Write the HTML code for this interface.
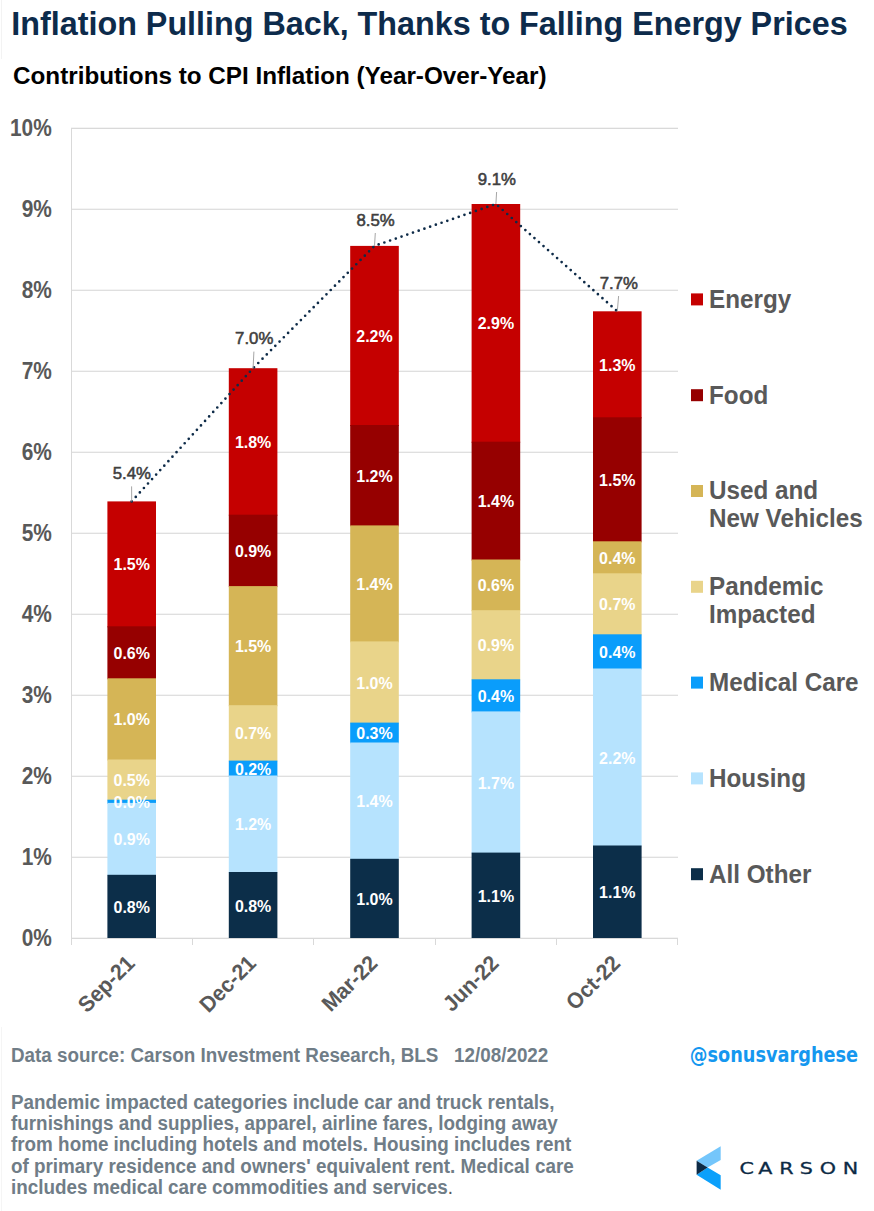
<!DOCTYPE html><html><head><meta charset="utf-8"><title>Inflation Pulling Back, Thanks to Falling Energy Prices</title>
<style>html,body{margin:0;padding:0;background:#fff;}svg{display:block;font-family:"Liberation Sans", Arial, Helvetica, sans-serif;}</style></head><body>
<svg width="874" height="1211" viewBox="0 0 874 1211">
<rect x="0" y="0" width="874" height="1211" fill="#fff"/>
<rect x="1" y="0" width="1" height="59" fill="#f3f3f3"/>
<rect x="1" y="1027" width="1" height="184" fill="#f5f5f5"/>
<text x="11.3" y="35" font-size="32.3" font-weight="bold" fill="#0D2B4B">Inflation Pulling Back, Thanks to Falling Energy Prices</text>
<text x="13" y="84" font-size="24.25" font-weight="bold" fill="#000">Contributions to CPI Inflation (Year-Over-Year)</text>
<rect x="71" y="127" width="607" height="1" fill="#F4F4F4"/>
<rect x="71" y="128" width="607" height="1" fill="#D9D9D9"/>
<text transform="translate(51.8,136.1) scale(0.9,1)" font-size="23.2" font-weight="bold" fill="#595959" text-anchor="end">10%</text>
<rect x="71" y="208" width="607" height="1" fill="#F4F4F4"/>
<rect x="71" y="209" width="607" height="1" fill="#DFDFDF"/>
<text transform="translate(51.8,217.1) scale(0.9,1)" font-size="23.2" font-weight="bold" fill="#595959" text-anchor="end">9%</text>
<rect x="71" y="289" width="607" height="1" fill="#F4F4F4"/>
<rect x="71" y="290" width="607" height="1" fill="#DFDFDF"/>
<text transform="translate(51.8,298.1) scale(0.9,1)" font-size="23.2" font-weight="bold" fill="#595959" text-anchor="end">8%</text>
<rect x="71" y="370" width="607" height="1" fill="#F4F4F4"/>
<rect x="71" y="371" width="607" height="1" fill="#DFDFDF"/>
<text transform="translate(51.8,379.1) scale(0.9,1)" font-size="23.2" font-weight="bold" fill="#595959" text-anchor="end">7%</text>
<rect x="71" y="451" width="607" height="1" fill="#F4F4F4"/>
<rect x="71" y="452" width="607" height="1" fill="#DFDFDF"/>
<text transform="translate(51.8,460.1) scale(0.9,1)" font-size="23.2" font-weight="bold" fill="#595959" text-anchor="end">6%</text>
<rect x="71" y="532" width="607" height="1" fill="#F4F4F4"/>
<rect x="71" y="533" width="607" height="1" fill="#DFDFDF"/>
<text transform="translate(51.8,541.1) scale(0.9,1)" font-size="23.2" font-weight="bold" fill="#595959" text-anchor="end">5%</text>
<rect x="71" y="613" width="607" height="1" fill="#F4F4F4"/>
<rect x="71" y="614" width="607" height="1" fill="#DFDFDF"/>
<text transform="translate(51.8,622.1) scale(0.9,1)" font-size="23.2" font-weight="bold" fill="#595959" text-anchor="end">4%</text>
<rect x="71" y="694" width="607" height="1" fill="#F4F4F4"/>
<rect x="71" y="695" width="607" height="1" fill="#DFDFDF"/>
<text transform="translate(51.8,703.1) scale(0.9,1)" font-size="23.2" font-weight="bold" fill="#595959" text-anchor="end">3%</text>
<rect x="71" y="775" width="607" height="1" fill="#F4F4F4"/>
<rect x="71" y="776" width="607" height="1" fill="#DFDFDF"/>
<text transform="translate(51.8,784.1) scale(0.9,1)" font-size="23.2" font-weight="bold" fill="#595959" text-anchor="end">2%</text>
<rect x="71" y="856" width="607" height="1" fill="#F4F4F4"/>
<rect x="71" y="857" width="607" height="1" fill="#DFDFDF"/>
<text transform="translate(51.8,865.1) scale(0.9,1)" font-size="23.2" font-weight="bold" fill="#595959" text-anchor="end">1%</text>
<rect x="71" y="937" width="607" height="1" fill="#F4F4F4"/>
<rect x="71" y="938" width="607" height="1" fill="#D9D9D9"/>
<text transform="translate(51.8,946.1) scale(0.9,1)" font-size="23.2" font-weight="bold" fill="#595959" text-anchor="end">0%</text>
<rect x="71" y="128" width="1" height="817" fill="#D9D9D9"/>
<rect x="71" y="938" width="1" height="7" fill="#D9D9D9"/>
<rect x="192" y="938" width="1" height="7" fill="#D9D9D9"/>
<rect x="313" y="938" width="1" height="7" fill="#D9D9D9"/>
<rect x="435" y="938" width="1" height="7" fill="#D9D9D9"/>
<rect x="556" y="938" width="1" height="7" fill="#D9D9D9"/>
<rect x="677" y="938" width="1" height="7" fill="#D9D9D9"/>
<rect x="107.4" y="501.4" width="48.6" height="125.9" fill="#C50000"/>
<rect x="107.4" y="626.3" width="48.6" height="53.0" fill="#960000"/>
<rect x="107.4" y="678.3" width="48.6" height="82.2" fill="#D5B556"/>
<rect x="107.4" y="759.5" width="48.6" height="41.2" fill="#E9D48A"/>
<rect x="107.4" y="799.7" width="48.6" height="4.2" fill="#0A9DFB"/>
<rect x="107.4" y="802.9" width="48.6" height="72.9" fill="#B6E3FE"/>
<rect x="107.4" y="874.8" width="48.6" height="63.2" fill="#0C2E49"/>
<rect x="228.8" y="368.2" width="48.6" height="147.5" fill="#C50000"/>
<rect x="228.8" y="514.7" width="48.6" height="72.4" fill="#960000"/>
<rect x="228.8" y="586.1" width="48.6" height="120.1" fill="#D5B556"/>
<rect x="228.8" y="705.2" width="48.6" height="56.4" fill="#E9D48A"/>
<rect x="228.8" y="760.6" width="48.6" height="15.9" fill="#0A9DFB"/>
<rect x="228.8" y="775.5" width="48.6" height="97.5" fill="#B6E3FE"/>
<rect x="228.8" y="872.0" width="48.6" height="66.0" fill="#0C2E49"/>
<rect x="350.2" y="245.9" width="48.6" height="180.1" fill="#C50000"/>
<rect x="350.2" y="425.0" width="48.6" height="101.4" fill="#960000"/>
<rect x="350.2" y="525.4" width="48.6" height="117.0" fill="#D5B556"/>
<rect x="350.2" y="641.4" width="48.6" height="82.2" fill="#E9D48A"/>
<rect x="350.2" y="722.6" width="48.6" height="20.9" fill="#0A9DFB"/>
<rect x="350.2" y="742.5" width="48.6" height="117.3" fill="#B6E3FE"/>
<rect x="350.2" y="858.8" width="48.6" height="79.2" fill="#0C2E49"/>
<rect x="471.6" y="204.0" width="48.6" height="238.7" fill="#C50000"/>
<rect x="471.6" y="441.7" width="48.6" height="118.8" fill="#960000"/>
<rect x="471.6" y="559.5" width="48.6" height="51.7" fill="#D5B556"/>
<rect x="471.6" y="610.2" width="48.6" height="70.1" fill="#E9D48A"/>
<rect x="471.6" y="679.3" width="48.6" height="33.1" fill="#0A9DFB"/>
<rect x="471.6" y="711.4" width="48.6" height="142.2" fill="#B6E3FE"/>
<rect x="471.6" y="852.6" width="48.6" height="85.4" fill="#0C2E49"/>
<rect x="593.0" y="311.3" width="48.6" height="107.0" fill="#C50000"/>
<rect x="593.0" y="417.3" width="48.6" height="125.0" fill="#960000"/>
<rect x="593.0" y="541.3" width="48.6" height="33.0" fill="#D5B556"/>
<rect x="593.0" y="573.3" width="48.6" height="62.0" fill="#E9D48A"/>
<rect x="593.0" y="634.3" width="48.6" height="35.2" fill="#0A9DFB"/>
<rect x="593.0" y="668.5" width="48.6" height="178.0" fill="#B6E3FE"/>
<rect x="593.0" y="845.5" width="48.6" height="92.5" fill="#0C2E49"/>
<text transform="translate(131.7,912.9) scale(0.93,1)" font-size="17.2" font-weight="bold" fill="#fff" text-anchor="middle">0.8%</text>
<text transform="translate(131.7,845.3) scale(0.93,1)" font-size="17.2" font-weight="bold" fill="#fff" text-anchor="middle">0.9%</text>
<text transform="translate(131.7,807.8) scale(0.93,1)" font-size="17.2" font-weight="bold" fill="#fff" text-anchor="middle">0.0%</text>
<text transform="translate(131.7,786.1) scale(0.93,1)" font-size="17.2" font-weight="bold" fill="#fff" text-anchor="middle">0.5%</text>
<text transform="translate(131.7,725.4) scale(0.93,1)" font-size="17.2" font-weight="bold" fill="#fff" text-anchor="middle">1.0%</text>
<text transform="translate(131.7,658.8) scale(0.93,1)" font-size="17.2" font-weight="bold" fill="#fff" text-anchor="middle">0.6%</text>
<text transform="translate(131.7,570.3) scale(0.93,1)" font-size="17.2" font-weight="bold" fill="#fff" text-anchor="middle">1.5%</text>
<text transform="translate(253.1,911.5) scale(0.93,1)" font-size="17.2" font-weight="bold" fill="#fff" text-anchor="middle">0.8%</text>
<text transform="translate(253.1,830.2) scale(0.93,1)" font-size="17.2" font-weight="bold" fill="#fff" text-anchor="middle">1.2%</text>
<text transform="translate(253.1,774.5) scale(0.93,1)" font-size="17.2" font-weight="bold" fill="#fff" text-anchor="middle">0.2%</text>
<text transform="translate(253.1,739.4) scale(0.93,1)" font-size="17.2" font-weight="bold" fill="#fff" text-anchor="middle">0.7%</text>
<text transform="translate(253.1,652.1) scale(0.93,1)" font-size="17.2" font-weight="bold" fill="#fff" text-anchor="middle">1.5%</text>
<text transform="translate(253.1,556.9) scale(0.93,1)" font-size="17.2" font-weight="bold" fill="#fff" text-anchor="middle">0.9%</text>
<text transform="translate(253.1,447.9) scale(0.93,1)" font-size="17.2" font-weight="bold" fill="#fff" text-anchor="middle">1.8%</text>
<text transform="translate(374.5,904.9) scale(0.93,1)" font-size="17.2" font-weight="bold" fill="#fff" text-anchor="middle">1.0%</text>
<text transform="translate(374.5,807.1) scale(0.93,1)" font-size="17.2" font-weight="bold" fill="#fff" text-anchor="middle">1.4%</text>
<text transform="translate(374.5,739.0) scale(0.93,1)" font-size="17.2" font-weight="bold" fill="#fff" text-anchor="middle">0.3%</text>
<text transform="translate(374.5,688.5) scale(0.93,1)" font-size="17.2" font-weight="bold" fill="#fff" text-anchor="middle">1.0%</text>
<text transform="translate(374.5,589.9) scale(0.93,1)" font-size="17.2" font-weight="bold" fill="#fff" text-anchor="middle">1.4%</text>
<text transform="translate(374.5,481.7) scale(0.93,1)" font-size="17.2" font-weight="bold" fill="#fff" text-anchor="middle">1.2%</text>
<text transform="translate(374.5,341.9) scale(0.93,1)" font-size="17.2" font-weight="bold" fill="#fff" text-anchor="middle">2.2%</text>
<text transform="translate(495.9,901.8) scale(0.93,1)" font-size="17.2" font-weight="bold" fill="#fff" text-anchor="middle">1.1%</text>
<text transform="translate(495.9,788.5) scale(0.93,1)" font-size="17.2" font-weight="bold" fill="#fff" text-anchor="middle">1.7%</text>
<text transform="translate(495.9,701.8) scale(0.93,1)" font-size="17.2" font-weight="bold" fill="#fff" text-anchor="middle">0.4%</text>
<text transform="translate(495.9,651.2) scale(0.93,1)" font-size="17.2" font-weight="bold" fill="#fff" text-anchor="middle">0.9%</text>
<text transform="translate(495.9,591.3) scale(0.93,1)" font-size="17.2" font-weight="bold" fill="#fff" text-anchor="middle">0.6%</text>
<text transform="translate(495.9,507.1) scale(0.93,1)" font-size="17.2" font-weight="bold" fill="#fff" text-anchor="middle">1.4%</text>
<text transform="translate(495.9,329.3) scale(0.93,1)" font-size="17.2" font-weight="bold" fill="#fff" text-anchor="middle">2.9%</text>
<text transform="translate(617.3,898.2) scale(0.93,1)" font-size="17.2" font-weight="bold" fill="#fff" text-anchor="middle">1.1%</text>
<text transform="translate(617.3,763.5) scale(0.93,1)" font-size="17.2" font-weight="bold" fill="#fff" text-anchor="middle">2.2%</text>
<text transform="translate(617.3,657.9) scale(0.93,1)" font-size="17.2" font-weight="bold" fill="#fff" text-anchor="middle">0.4%</text>
<text transform="translate(617.3,610.3) scale(0.93,1)" font-size="17.2" font-weight="bold" fill="#fff" text-anchor="middle">0.7%</text>
<text transform="translate(617.3,563.8) scale(0.93,1)" font-size="17.2" font-weight="bold" fill="#fff" text-anchor="middle">0.4%</text>
<text transform="translate(617.3,485.8) scale(0.93,1)" font-size="17.2" font-weight="bold" fill="#fff" text-anchor="middle">1.5%</text>
<text transform="translate(617.3,370.8) scale(0.93,1)" font-size="17.2" font-weight="bold" fill="#fff" text-anchor="middle">1.3%</text>
<polyline points="131.7,501.4 253.1,368.2 374.5,245.9 495.9,204.0 617.3,311.3" fill="none" stroke="#0E2B48" stroke-width="2.7" stroke-dasharray="0 6.05" stroke-linecap="round" stroke-linejoin="round"/>
<line x1="131.6" y1="486.4" x2="131.7" y2="501.4" stroke="#A6A6A6" stroke-width="1"/>
<text x="131.9" y="479.2" font-size="16.8" fill="#404040" stroke="#404040" stroke-width="0.55" text-anchor="middle">5.4%</text>
<line x1="253.9" y1="351.6" x2="253.1" y2="368.2" stroke="#A6A6A6" stroke-width="1"/>
<text x="254.2" y="344.4" font-size="16.8" fill="#404040" stroke="#404040" stroke-width="0.55" text-anchor="middle">7.0%</text>
<line x1="375.3" y1="233.0" x2="374.5" y2="245.9" stroke="#A6A6A6" stroke-width="1"/>
<text x="375.6" y="225.9" font-size="16.8" fill="#404040" stroke="#404040" stroke-width="0.55" text-anchor="middle">8.5%</text>
<line x1="496.6" y1="192.0" x2="495.9" y2="204.0" stroke="#A6A6A6" stroke-width="1"/>
<text x="496.9" y="184.7" font-size="16.8" fill="#404040" stroke="#404040" stroke-width="0.55" text-anchor="middle">9.1%</text>
<line x1="618.6" y1="296.0" x2="617.3" y2="311.3" stroke="#A6A6A6" stroke-width="1"/>
<text x="618.9" y="289.0" font-size="16.8" fill="#404040" stroke="#404040" stroke-width="0.55" text-anchor="middle">7.7%</text>
<text transform="translate(124.4,953.2) rotate(-45) scale(0.96,1)" font-size="22" font-weight="bold" fill="#595959" text-anchor="end" dominant-baseline="hanging">Sep-21</text>
<text transform="translate(245.8,953.2) rotate(-45) scale(0.96,1)" font-size="22" font-weight="bold" fill="#595959" text-anchor="end" dominant-baseline="hanging">Dec-21</text>
<text transform="translate(367.2,953.2) rotate(-45) scale(0.96,1)" font-size="22" font-weight="bold" fill="#595959" text-anchor="end" dominant-baseline="hanging">Mar-22</text>
<text transform="translate(488.6,953.2) rotate(-45) scale(0.96,1)" font-size="22" font-weight="bold" fill="#595959" text-anchor="end" dominant-baseline="hanging">Jun-22</text>
<text transform="translate(610.0,953.2) rotate(-45) scale(0.96,1)" font-size="22" font-weight="bold" fill="#595959" text-anchor="end" dominant-baseline="hanging">Oct-22</text>
<rect x="691" y="293.4" width="12" height="12" fill="#C50000"/>
<text transform="translate(709,307.7) scale(0.955,1)" font-size="25.4" font-weight="bold" fill="#595959">Energy</text>
<rect x="691" y="389.2" width="12" height="12" fill="#960000"/>
<text transform="translate(709,403.5) scale(0.955,1)" font-size="25.4" font-weight="bold" fill="#595959">Food</text>
<rect x="691" y="485.0" width="12" height="12" fill="#D5B556"/>
<text transform="translate(709,499.3) scale(0.955,1)" font-size="25.4" font-weight="bold" fill="#595959">Used and</text>
<text transform="translate(709,527.1) scale(0.955,1)" font-size="25.4" font-weight="bold" fill="#595959">New Vehicles</text>
<rect x="691" y="580.8" width="12" height="12" fill="#E9D48A"/>
<text transform="translate(709,595.1) scale(0.955,1)" font-size="25.4" font-weight="bold" fill="#595959">Pandemic</text>
<text transform="translate(709,622.9) scale(0.955,1)" font-size="25.4" font-weight="bold" fill="#595959">Impacted</text>
<rect x="691" y="676.6" width="12" height="12" fill="#0A9DFB"/>
<text transform="translate(709,690.9) scale(0.955,1)" font-size="25.4" font-weight="bold" fill="#595959">Medical Care</text>
<rect x="691" y="772.4" width="12" height="12" fill="#B6E3FE"/>
<text transform="translate(709,786.7) scale(0.955,1)" font-size="25.4" font-weight="bold" fill="#595959">Housing</text>
<rect x="691" y="868.2" width="12" height="12" fill="#0C2E49"/>
<text transform="translate(709,882.5) scale(0.955,1)" font-size="25.4" font-weight="bold" fill="#595959">All Other</text>
<text transform="translate(11,1061.5) scale(0.925,1)" font-size="20.4" font-weight="bold" fill="#707D87">Data source: Carson Investment Research, BLS</text>
<text transform="translate(454,1061.5) scale(0.925,1)" font-size="20.4" font-weight="bold" fill="#707D87">12/08/2022</text>
<text transform="translate(11,1108.5) scale(0.925,1)" font-size="20.4" font-weight="bold" fill="#707D87">Pandemic impacted categories include car and truck rentals,</text>
<text transform="translate(11,1129.8) scale(0.925,1)" font-size="20.4" font-weight="bold" fill="#707D87">furnishings and supplies, apparel, airline fares, lodging away</text>
<text transform="translate(11,1151.2) scale(0.925,1)" font-size="20.4" font-weight="bold" fill="#707D87">from home including hotels and motels. Housing includes rent</text>
<text transform="translate(11,1172.5) scale(0.925,1)" font-size="20.4" font-weight="bold" fill="#707D87">of primary residence and owners' equivalent rent. Medical care</text>
<text transform="translate(11,1193.9) scale(0.925,1)" font-size="20.4" font-weight="bold" fill="#707D87">includes medical care commodities and services<tspan font-weight="normal" fill="#555">.</tspan></text>
<text x="689.8" y="1061.7" font-size="22" font-weight="bold" style="font-family:'DejaVu Sans Condensed', 'DejaVu Sans', sans-serif;font-stretch:condensed" fill="#1597EF" textLength="168.3" lengthAdjust="spacingAndGlyphs">@sonusvarghese</text>
<polygon points="696.6,1160.8 720.7,1146.2 720.7,1159.9 707.6,1167.5" fill="#74C6FB"/>
<polygon points="696.6,1174.8 707.6,1167.5 720.7,1175.2 720.7,1189.7" fill="#0BA0FB"/>
<polygon points="696.6,1160.8 707.6,1167.5 696.6,1174.8" fill="#0C2A45"/>
<text transform="translate(740.2,1173.8) scale(1.26,1)" x="-0.60 14.32 30.99 47.18 63.05 81.46" y="0" font-size="16.4" style="font-family:'DejaVu Sans', sans-serif" fill="#0C2A45" stroke="#0C2A45" stroke-width="0.3">CARSON</text>
</svg></body></html>
